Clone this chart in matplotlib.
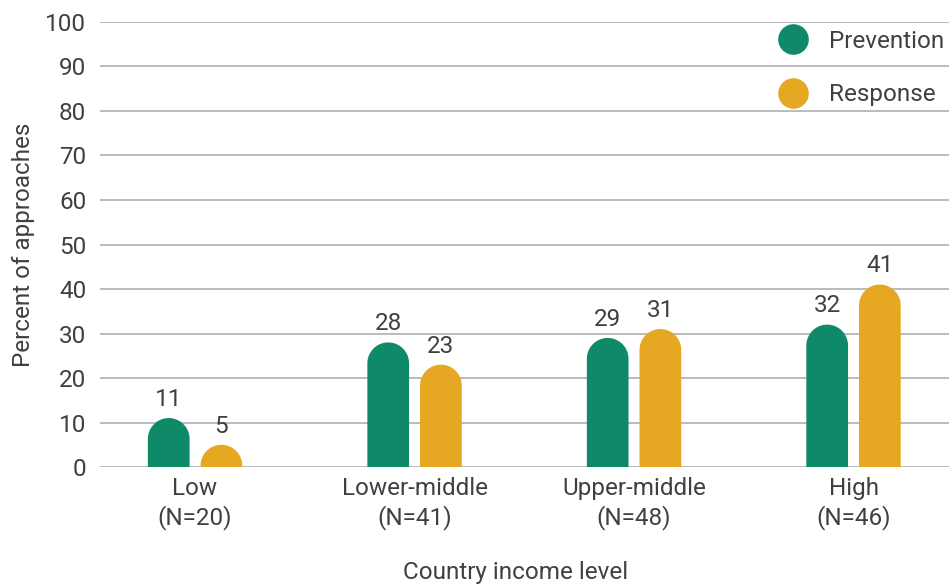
import matplotlib
matplotlib.use("Agg")
import matplotlib.pyplot as plt
from matplotlib.patches import Polygon
from matplotlib.lines import Line2D
import numpy as np

# --- données ---
categories = ["Low\n(N=20)", "Lower-middle\n(N=41)", "Upper-middle\n(N=48)", "High\n(N=46)"]
prevention = [11, 28, 29, 32]
response = [5, 23, 31, 41]
yticks = [0, 10, 20, 30, 40, 50, 60, 70, 80, 90, 100]

GREEN = "#0f8a69"
YELLOW = "#e6a822"
TEXT = "#404040"
GRID = "#a8a8a8"
FS = 17.5

plt.rcParams['font.family'] = ['Roboto', 'DejaVu Sans']

fig = plt.figure(figsize=(9.49, 5.85), dpi=100)
ax = fig.add_axes([0.1054, 0.2017, 0.8946, 0.7607])

xlim = (-0.433, 3.435)
ylim = (0, 100)
ax.set_xlim(*xlim)
ax.set_ylim(*ylim)

width = 0.19
offset = 0.12

# rayon de l'arrondi en unités de données (x et y différentes)
bbox = ax.get_position()
px_x = bbox.width * 949 / (xlim[1] - xlim[0])
px_y = bbox.height * 585 / (ylim[1] - ylim[0])
rx = width / 2
ry = rx * px_x / px_y


def rounded_bar(xc, h, color):
    t = np.linspace(0, np.pi, 40)
    top = max(h - ry, 0)
    arc_x = xc + rx * np.cos(t)
    arc_y = top + ry * np.sin(t)
    verts = [(xc + rx, 0)] + list(zip(arc_x, arc_y)) + [(xc - rx, 0)]
    ax.add_patch(Polygon(verts, closed=True, facecolor=color, edgecolor='none', zorder=3))


x = np.arange(len(categories))
for xi, p, r in zip(x, prevention, response):
    rounded_bar(xi - offset, p, GREEN)
    rounded_bar(xi + offset, r, YELLOW)
    ax.text(xi - offset, p + 1.6, str(p), ha='center', va='bottom', fontsize=FS, color=TEXT)
    ax.text(xi + offset, r + 1.6, str(r), ha='center', va='bottom', fontsize=FS, color=TEXT)

ax.set_yticks(yticks)
ax.set_xticks(x)
ax.set_xticklabels(categories, fontsize=FS, color=TEXT, linespacing=1.3)
ax.tick_params(axis='y', length=0, labelsize=FS, labelcolor=TEXT, pad=10)
ax.tick_params(axis='x', length=0, pad=7)
for s in ax.spines.values():
    s.set_visible(False)
ax.grid(axis='y', color=GRID, linewidth=1.1)
ax.set_axisbelow(True)

ax.set_ylabel("Percent of approaches", fontsize=FS, color=TEXT, labelpad=7)
ax.set_xlabel("Country income level", fontsize=FS, color=TEXT)
ax.xaxis.set_label_coords(0.49, -0.212)

handles = [Line2D([], [], marker='o', linestyle='none', markersize=21, color=GREEN),
           Line2D([], [], marker='o', linestyle='none', markersize=21, color=YELLOW)]
ax.legend(handles, ["Prevention", "Response"], loc='upper right', frameon=False,
          fontsize=FS, labelcolor=TEXT, bbox_to_anchor=(1.012, 1.015),
          labelspacing=1.25, handletextpad=0.5, borderaxespad=0.2)

fig.savefig("out.png", dpi=100)
